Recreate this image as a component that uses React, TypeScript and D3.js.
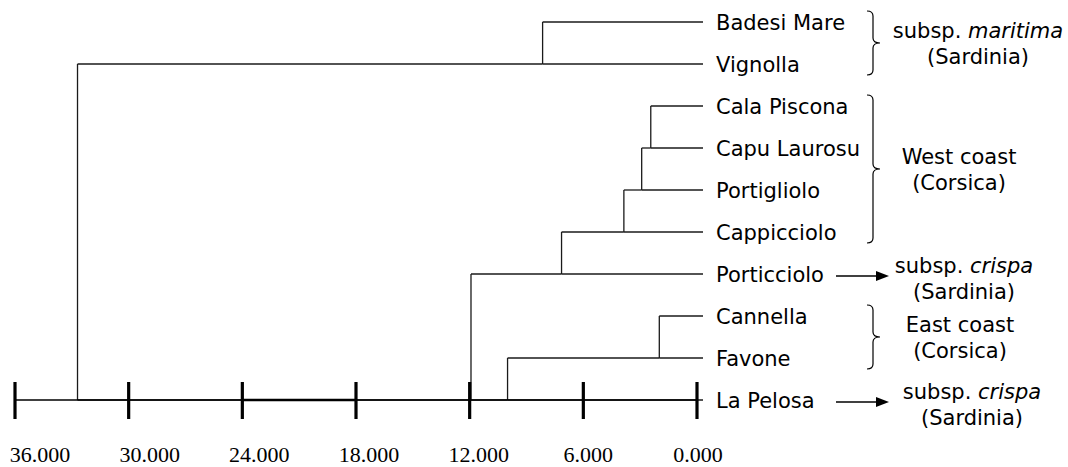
import React, { useEffect, useRef } from "react"
import * as d3 from "d3"

// leaves, top to bottom
const leaves = [
  "Badesi Mare", "Vignolla", "Cala Piscona", "Capu Laurosu", "Portigliolo",
  "Cappicciolo", "Porticciolo", "Cannella", "Favone", "La Pelosa",
]

const merges = [
  { id: "n1", a: "Cannella", b: "Favone", dist: 1.99 },
  { id: "n2", a: "Cala Piscona", b: "Capu Laurosu", dist: 2.44 },
  { id: "n3", a: "n2", b: "Portigliolo", dist: 2.92 },
  { id: "n4", a: "n3", b: "Cappicciolo", dist: 3.86 },
  { id: "n5", a: "n4", b: "Porticciolo", dist: 7.15 },
  { id: "n6", a: "Badesi Mare", b: "Vignolla", dist: 8.15 },
  { id: "n7", a: "n1", b: "La Pelosa", dist: 10.0 },
  { id: "n8", a: "n5", b: "n7", dist: 11.93 },
  { id: "n9", a: "n6", b: "n8", dist: 32.7 },
]

const tickValues = [36, 30, 24, 18, 12, 6, 0]

// groups marked with a brace
const groups = [
  { first: "Badesi Mare", last: "Vignolla", lead: "subsp. ", italic: "maritima", second: "(Sardinia)" },
  { first: "Cala Piscona", last: "Cappicciolo", lead: "West coast", italic: "", second: "(Corsica)" },
  { first: "Cannella", last: "Favone", lead: "East coast", italic: "", second: "(Corsica)" },
]

// single leaves marked with an arrow
const pointers = [
  { leaf: "Porticciolo", lead: "subsp. ", italic: "crispa", second: "(Sardinia)" },
  { leaf: "La Pelosa", lead: "subsp. ", italic: "crispa", second: "(Sardinia)" },
]

const W = 1068
const H = 467
const groupCx = [978, 959, 960]
const pointerCx = [964, 972]
const sans = "'DejaVu Sans', sans-serif"

export default function App() {
  const ref = useRef<SVGSVGElement>(null)

  useEffect(() => {
    document.body.style.margin = "0"
    const svg = d3.select(ref.current)
    svg.selectAll("*").remove()

    const x = d3.scaleLinear().domain([36, 0]).range([15, 697])
    const y = d3.scalePoint<string>().domain(leaves).range([22, 400])
    const labelX = d3.scaleLinear().domain([36, 0]).range([40, 698])
    const axisY = y("La Pelosa")!
    const leafEnd = x(0) + 6

    const pos: Record<string, { y: number; dist: number }> = {}
    leaves.forEach((l) => (pos[l] = { y: y(l)!, dist: 0 }))

    const g = svg.append("g").attr("stroke", "#1a1a1a").attr("stroke-width", 1.3).attr("fill", "none")

    merges.forEach((m) => {
      const A = pos[m.a]
      const B = pos[m.b]
      pos[m.id] = { y: Math.max(A.y, B.y), dist: m.dist }
      g.append("line")
        .attr("x1", x(m.dist)).attr("x2", x(m.dist))
        .attr("y1", A.y).attr("y2", B.y)
      ;[m.a, m.b].forEach((c) => {
        const child = pos[c]
        g.append("line")
          .attr("x1", x(m.dist))
          .attr("x2", child.dist === 0 ? leafEnd : x(child.dist))
          .attr("y1", child.y).attr("y2", child.y)
      })
    })

    // scale bar
    const axis = svg.append("g").attr("stroke", "#000")
    axis.selectAll("line.seg")
      .data(d3.pairs(tickValues))
      .join("line")
      .attr("class", "seg")
      .attr("x1", (d) => x(d[0])).attr("x2", (d) => x(d[1]))
      .attr("y1", axisY).attr("y2", axisY)
      .attr("stroke-width", (d, i) => (i === 2 ? 2.6 : 1.3))
    axis.selectAll("line.tick")
      .data(tickValues)
      .join("line")
      .attr("class", "tick")
      .attr("x1", (d) => x(d)).attr("x2", (d) => x(d))
      .attr("y1", axisY - 18).attr("y2", axisY + 19)
      .attr("stroke-width", 3.2)
    svg.append("g").selectAll("text")
      .data(tickValues)
      .join("text")
      .attr("x", (d) => labelX(d))
      .attr("y", 462)
      .attr("text-anchor", "middle")
      .attr("font-family", "'Liberation Serif', 'Times New Roman', serif")
      .attr("font-size", 22)
      .attr("fill", "#000")
      .text((d) => d3.format(".3f")(d))

    // leaf labels
    svg.append("g").selectAll("text")
      .data(leaves)
      .join("text")
      .attr("x", 716)
      .attr("y", (d) => y(d)! + 7.6)
      .attr("font-family", sans)
      .attr("font-size", 21)
      .attr("fill", "#000")
      .text((d) => d)

    const twoLines = (cx: number, base: number, d: { lead: string; italic: string; second: string }) => {
      const t = svg.append("text")
        .attr("x", cx).attr("y", base)
        .attr("text-anchor", "middle")
        .attr("font-family", sans).attr("font-size", 21).attr("fill", "#000")
      t.append("tspan").text(d.lead)
      if (d.italic) t.append("tspan").attr("font-style", "italic").text(d.italic)
      svg.append("text")
        .attr("x", cx).attr("y", base + 26)
        .attr("text-anchor", "middle")
        .attr("font-family", sans).attr("font-size", 21).attr("fill", "#000")
        .text(d.second)
    }

    // braces
    const x0 = 867, xv = 873, xt = 880, r = 5
    groups.forEach((gr, i) => {
      const top = y(gr.first)! - 11
      const bot = y(gr.last)! + 11
      const mid = (top + bot) / 2
      const p = d3.path()
      p.moveTo(x0, top)
      p.quadraticCurveTo(xv, top, xv, top + r)
      p.lineTo(xv, mid - r)
      p.quadraticCurveTo(xv, mid, xt, mid)
      p.quadraticCurveTo(xv, mid, xv, mid + r)
      p.lineTo(xv, bot - r)
      p.quadraticCurveTo(xv, bot, x0, bot)
      svg.append("path").attr("d", p.toString())
        .attr("fill", "none").attr("stroke", "#000").attr("stroke-width", 1.2)
      twoLines(groupCx[i], mid - 5, gr)
    })

    // arrows
    pointers.forEach((pt, i) => {
      const ay = y(pt.leaf)! + 2
      svg.append("line")
        .attr("x1", 836).attr("x2", 878)
        .attr("y1", ay).attr("y2", ay)
        .attr("stroke", "#000").attr("stroke-width", 1.3)
      svg.append("path")
        .attr("d", `M876,${ay - 5}L889,${ay}L876,${ay + 5}Z`)
        .attr("fill", "#000")
      twoLines(pointerCx[i], ay - 3, pt)
    })
  }, [])

  return <svg ref={ref} width={W} height={H} style={{ display: "block", background: "#fff" }} />
}
